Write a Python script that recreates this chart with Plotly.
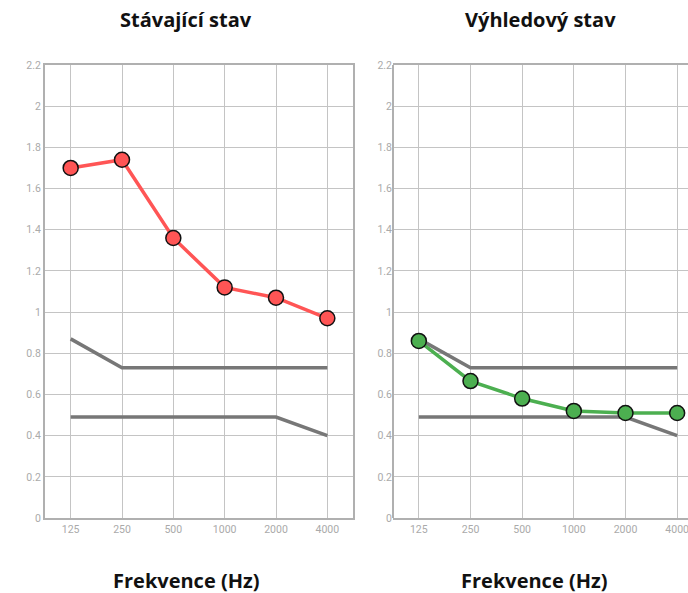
import plotly.graph_objects as go

freqs = ["125", "250", "500", "1000", "2000", "4000"]
current = [1.70, 1.74, 1.36, 1.12, 1.07, 0.97]
future = [0.86, 0.665, 0.58, 0.52, 0.51, 0.51]
upper_limit = [0.87, 0.73, 0.73, 0.73, 0.73, 0.73]
lower_limit = [0.49, 0.49, 0.49, 0.49, 0.49, 0.40]
y_ticks = [0, 0.2, 0.4, 0.6, 0.8, 1, 1.2, 1.4, 1.6, 1.8, 2, 2.2]
y_tick_text = ["0", "0.2", "0.4", "0.6", "0.8", "1", "1.2", "1.4", "1.6", "1.8", "2", "2.2"]
titles = ["Stávající stav", "Výhledový stav"]
x_title = "Frekvence (Hz)"

W, H = 688, 593
TOP, BOT = 65, 518
PH = BOT - TOP
fig = go.Figure()

GRAY = "#777777"
for ax, data, color in [("", current, "#FF5555"), ("2", future, "#4CAF50")]:
    for lim in (upper_limit, lower_limit):
        fig.add_trace(go.Scatter(x=freqs, y=lim, mode="lines", xaxis="x" + ax, yaxis="y" + ax,
                                 line=dict(color=GRAY, width=3.5), hoverinfo="skip", showlegend=False))
    fig.add_trace(go.Scatter(x=freqs, y=data, mode="lines+markers", xaxis="x" + ax, yaxis="y" + ax,
                             line=dict(color=color, width=3.5),
                             marker=dict(size=15, color=color, line=dict(color="#111111", width=1.5)),
                             showlegend=False))

tickfont = dict(family="Roboto", size=10.5, color="#aaaaaa")
common_x = dict(type="category", showgrid=True, gridcolor="#c4c4c4", gridwidth=1,
                showline=True, linecolor="#b0b0b0", linewidth=2, ticks="", tickfont=tickfont,
                zeroline=False, fixedrange=True)
common_y = dict(range=[0, 2.2], tickvals=y_ticks, ticktext=y_tick_text, showgrid=True,
                gridcolor="#c4c4c4", gridwidth=1, ticks="", tickfont=tickfont,
                zeroline=False, fixedrange=True)

fig.update_layout(
    width=W, height=H,
    margin=dict(l=0, r=0, t=TOP, b=H - BOT),
    paper_bgcolor="white", plot_bgcolor="white",
    xaxis=dict(domain=[45 / W, 353 / W], range=[-0.5, 5.5], mirror=True, anchor="y", **common_x),
    yaxis=dict(domain=[0, 1], mirror=True, anchor="x", showline=True, linecolor="#b0b0b0",
               linewidth=2, **common_y),
    xaxis2=dict(domain=[393 / W, 1.0], range=[-0.5, 5.21], mirror=True, anchor="y2", **common_x),
    yaxis2=dict(domain=[0, 1], anchor="x2", showline=False, **common_y),
)
# left frame edge of the right panel (its right edge lies beyond the window)
fig.add_shape(type="line", xref="paper", yref="paper", x0=393 / W, x1=393 / W, y0=0, y1=1,
              line=dict(color="#b0b0b0", width=2))

title_font = dict(family="Open Sans", size=20, color="#111111")
for xc, t in [(186, titles[0]), (540, titles[1])]:
    fig.add_annotation(x=xc / W, y=(BOT - 20) / PH, xref="paper", yref="paper",
                       text="<b>" + t + "</b>", showarrow=False, font=title_font,
                       xanchor="center", yanchor="middle")
for xc in (186, 534):
    fig.add_annotation(x=xc / W, y=(BOT - 580) / PH, xref="paper", yref="paper",
                       text="<b>" + x_title + "</b>", showarrow=False, font=title_font,
                       xanchor="center", yanchor="middle")

fig.write_html("out.html", config={"displayModeBar": False},
               post_script="document.body.style.margin='0';document.body.style.overflow='hidden';")
